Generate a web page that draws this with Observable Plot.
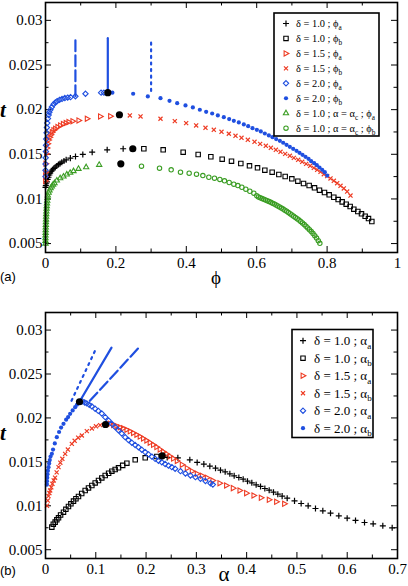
<!DOCTYPE html>
<html><head><meta charset="utf-8">
<script src="https://cdn.jsdelivr.net/npm/d3@7"></script>
<script src="https://cdn.jsdelivr.net/npm/@observablehq/plot@0.6"></script>
<style>
html,body{margin:0;padding:0;background:#fff;}
#wrap{position:relative;width:408px;height:586px;overflow:hidden;}
#wrap svg{position:absolute;left:0;}
</style></head>
<body><div id="wrap"></div>
<script>
// ---------- tick values & labels ----------
const X_TICKS_A = [0,0.2,0.4,0.6,0.8,1];
const X_LABELS_A = ["0","0.2","0.4","0.6","0.8","1"];
const X_MINOR_A = [0.1,0.3,0.5,0.7,0.9];
const X_TICKS_B = [0,0.1,0.2,0.3,0.4,0.5,0.6,0.7];
const X_LABELS_B = ["0","0.1","0.2","0.3","0.4","0.5","0.6","0.7"];
const X_MINOR_B = [0.05,0.15,0.25,0.35,0.45,0.55,0.65];
const Y_TICKS = [0.005,0.01,0.015,0.02,0.025,0.03];
const Y_LABELS = ["0.005","0.01","0.015","0.02","0.025","0.03"];
const Y_MINOR = [0.0075,0.0125,0.0175,0.0225,0.0275];

// ---------- panel (a): [phi, t] ----------
const a_d10_phiA = [[0,0.0113],[0.001,0.0115],[0.002,0.0117],[0.004,0.0119],[0.006,0.0122],[0.0085,0.01243],[0.011,0.01268],[0.0133,0.01288],[0.0165,0.0131],[0.0199,0.01326],[0.0235,0.01342],[0.0275,0.01355],[0.032,0.0137],[0.0369,0.01386],[0.0415,0.01398],[0.0464,0.01412],[0.0525,0.01425],[0.0587,0.01438],[0.0706,0.01457],[0.0852,0.01475],[0.106,0.01498],[0.1326,0.01524],[0.1752,0.0155],[0.2206,0.01562]];
const a_d10_phiB = [[0.2794,0.01562],[0.3343,0.0155],[0.3911,0.01524],[0.4337,0.01498],[0.4697,0.01472],[0.5019,0.01445],[0.5284,0.01423],[0.5549,0.01397],[0.5795,0.01371],[0.6023,0.01348],[0.6231,0.01322],[0.6439,0.013],[0.6629,0.01274],[0.6809,0.01251],[0.6998,0.01225],[0.7169,0.01199],[0.733,0.01173],[0.749,0.0115],[0.7642,0.01124],[0.7784,0.01098],[0.7926,0.01072],[0.8059,0.01046],[0.8191,0.01019],[0.8314,0.00993],[0.8428,0.00967],[0.8542,0.00941],[0.8655,0.00915],[0.8759,0.00885],[0.8873,0.00859],[0.8977,0.00833],[0.9081,0.00806],[0.9176,0.0078],[0.9271,0.00747]];
const a_d15_phiA = [[0,0.012],[0,0.0125],[0.0005,0.013],[0.001,0.01393],[0.0028,0.01506],[0.0045,0.0157],[0.0066,0.01618],[0.009,0.0166],[0.0123,0.01692],[0.0155,0.0172],[0.019,0.01748],[0.0235,0.0177],[0.0284,0.01786],[0.035,0.01805],[0.0426,0.01823],[0.0505,0.01838],[0.0585,0.0185],[0.0663,0.01861],[0.0777,0.01871],[0.0947,0.01879],[0.1184,0.01898],[0.156,0.01924],[0.1847,0.01927]];
const a_d15_phiB = [[0.2396,0.01935],[0.27,0.01924],[0.3267,0.01898],[0.3674,0.01871],[0.3996,0.01849],[0.428,0.01823],[0.4545,0.01797],[0.4782,0.01774],[0.5,0.01752],[0.5208,0.0173],[0.5398,0.01707],[0.5568,0.01685],[0.5748,0.01662],[0.5938,0.0164],[0.6098,0.01617],[0.6259,0.01595],[0.6402,0.01573],[0.6544,0.0155],[0.6676,0.01528],[0.6809,0.01505],[0.6941,0.01483],[0.7055,0.0146],[0.7178,0.01438],[0.7292,0.01416],[0.7405,0.01393],[0.7519,0.01371],[0.7623,0.01348],[0.7718,0.01326],[0.7813,0.01303],[0.7907,0.01277],[0.8002,0.01255],[0.8097,0.01229],[0.8191,0.01203],[0.8286,0.01176],[0.8381,0.01147],[0.8475,0.01117],[0.857,0.01083],[0.8665,0.01038]];
const a_d20_phiA = [[0,0.0125],[0,0.0132],[0,0.0139],[0.0005,0.0146],[0.001,0.0153],[0.0015,0.016],[0.002,0.0167],[0.003,0.0174],[0.004,0.018],[0.005,0.0185],[0.007,0.019],[0.009,0.0194],[0.011,0.0197],[0.014,0.02],[0.018,0.0203],[0.023,0.0206],[0.028,0.0208],[0.033,0.02095],[0.04,0.0211],[0.047,0.0212],[0.055,0.0213],[0.063,0.02135],[0.071,0.0214],[0.085,0.0215],[0.1136,0.02178],[0.158,0.0219],[0.166,0.0219]];
const a_d20_phiB = [[0.19,0.0219],[0.249,0.02178],[0.2907,0.02148],[0.3267,0.02129],[0.3523,0.02099],[0.3741,0.02073],[0.3977,0.02047],[0.4186,0.02025],[0.4384,0.01999],[0.4564,0.01976],[0.4735,0.01957],[0.4896,0.01935],[0.5066,0.01916],[0.5218,0.01894],[0.535,0.01875],[0.5492,0.01857],[0.5634,0.01834],[0.5758,0.01815],[0.5881,0.01793],[0.6004,0.01774],[0.6117,0.01756],[0.6231,0.01733],[0.6345,0.01711],[0.6449,0.01692],[0.6553,0.0167],[0.6657,0.01651],[0.6752,0.01629],[0.6847,0.01606],[0.6941,0.01584],[0.7036,0.01561],[0.7131,0.01539],[0.7216,0.01516],[0.7301,0.01494],[0.7386,0.01472],[0.7472,0.01449],[0.7547,0.01423],[0.7633,0.01401],[0.7708,0.01378],[0.7784,0.01352],[0.786,0.01326],[0.7935,0.013],[0.8002,0.01262]];
const a_crit_phiA = [[0,0.005],[0,0.0053],[0,0.0056],[0,0.0059],[0.0003,0.0062],[0.0005,0.0065],[0.0007,0.0068],[0.001,0.0071],[0.0012,0.0074],[0.0015,0.0077],[0.0018,0.008],[0.002,0.0083],[0.0025,0.0086],[0.003,0.0089],[0.0035,0.0092],[0.0042,0.0095],[0.005,0.0098],[0.0058,0.0101],[0.0066,0.01038],[0.009,0.0107],[0.0114,0.01094],[0.0145,0.0112],[0.018,0.01139],[0.0215,0.0116],[0.0256,0.01176],[0.0322,0.01206],[0.0417,0.01232],[0.0511,0.01251],[0.0606,0.01274],[0.0701,0.01293],[0.0795,0.01311],[0.0937,0.01337],[0.1155,0.01355],[0.1525,0.01382]];
const a_crit_phiB = [[0.2727,0.01367],[0.3239,0.01345],[0.357,0.01326],[0.3835,0.013],[0.4081,0.01288],[0.429,0.01277],[0.447,0.01262],[0.464,0.01243],[0.4801,0.01232],[0.4953,0.01218],[0.5085,0.01203],[0.5218,0.01184],[0.535,0.01165],[0.5464,0.0115],[0.5578,0.01131],[0.5691,0.01109],[0.5805,0.01086],[0.5919,0.01064],[0.6,0.01035],[0.605,0.01023],[0.61,0.01012],[0.615,0.01004],[0.62,0.00997],[0.625,0.00989],[0.63,0.00981],[0.635,0.00972],[0.64,0.00962],[0.645,0.00952],[0.65,0.00942],[0.655,0.00932],[0.66,0.00921],[0.665,0.0091],[0.67,0.00898],[0.675,0.00886],[0.68,0.00874],[0.685,0.00862],[0.69,0.00848],[0.695,0.00834],[0.7,0.0082],[0.705,0.00806],[0.71,0.00792],[0.715,0.00778],[0.72,0.00763],[0.725,0.00748],[0.73,0.00731],[0.735,0.00713],[0.74,0.00694],[0.745,0.00675],[0.75,0.00655],[0.755,0.00634],[0.76,0.00612],[0.765,0.00588],[0.77,0.00562],[0.775,0.00532],[0.7794,0.00503]];
const a_bigDots = [[0.177,0.0219],[0.21,0.01943],[0.248,0.01562],[0.214,0.01393]];
const a_lineDashed = [[0.085,0.0215],[0.085,0.028]];
const a_lineSolid = [[0.177,0.0219],[0.177,0.028]];
const a_lineDotted = [[0.3,0.0221],[0.3,0.028]];

// ---------- panel (b): [alpha, t] ----------
const b_d10_alphaA = [[0.242,0.0155],[0.2632,0.01546],[0.287,0.01523],[0.3016,0.01493],[0.3149,0.01474],[0.3268,0.01451],[0.3381,0.01428],[0.348,0.01405],[0.3573,0.01387],[0.3666,0.01364],[0.3752,0.01341],[0.3845,0.01322],[0.3931,0.01303],[0.4017,0.0128],[0.4103,0.01261],[0.4189,0.01239],[0.4276,0.0122],[0.4362,0.01197],[0.4448,0.01178],[0.4534,0.01155],[0.462,0.01132],[0.4706,0.0111],[0.4806,0.01087],[0.4952,0.01056],[0.5084,0.01026],[0.5223,0.01],[0.5369,0.00969],[0.5515,0.00943],[0.5668,0.00916],[0.5833,0.00886],[0.5999,0.00859],[0.6165,0.00833],[0.6344,0.0081],[0.6516,0.00795],[0.6708,0.00772],[0.6894,0.00749]];
const b_d10_alphaB = [[0.0126,0.00757],[0.0155,0.0079],[0.0192,0.00814],[0.0225,0.0084],[0.0259,0.00863],[0.03,0.00895],[0.0358,0.00927],[0.0405,0.0096],[0.0457,0.00992],[0.0505,0.01022],[0.0557,0.01053],[0.0605,0.0108],[0.0656,0.01106],[0.072,0.0114],[0.0789,0.01174],[0.0855,0.01203],[0.0922,0.01231],[0.0988,0.0126],[0.1054,0.01288],[0.112,0.01317],[0.1187,0.01345],[0.1255,0.0137],[0.132,0.01394],[0.1385,0.01413],[0.1452,0.01432],[0.1535,0.0146],[0.1618,0.01485],[0.1784,0.01523],[0.1983,0.01546],[0.2214,0.01561]];
const b_d15_alphaA = [[0.1286,0.01933],[0.1352,0.01921],[0.1418,0.01908],[0.1484,0.01895],[0.155,0.01882],[0.1617,0.01866],[0.1683,0.01848],[0.1749,0.01829],[0.1815,0.01809],[0.1881,0.01788],[0.1947,0.01766],[0.2013,0.01743],[0.2079,0.01719],[0.2146,0.01694],[0.2212,0.01668],[0.2278,0.01642],[0.2344,0.01616],[0.241,0.0159],[0.2478,0.01563],[0.2545,0.01537],[0.2618,0.0151],[0.2718,0.01468],[0.2817,0.01428],[0.2917,0.01394],[0.3016,0.01364],[0.3116,0.01341],[0.3215,0.01318],[0.3328,0.01288],[0.3467,0.01257],[0.3599,0.01231],[0.3732,0.01201],[0.3865,0.01174],[0.3997,0.01144],[0.4143,0.01117],[0.4289,0.01091],[0.4448,0.01068],[0.4594,0.01045],[0.4753,0.01022]];
const b_d15_alphaB = [[0.003,0.01],[0.0045,0.0106],[0.006,0.0111],[0.0078,0.01145],[0.0093,0.01174],[0.0115,0.0121],[0.0138,0.0125],[0.0163,0.01288],[0.019,0.0132],[0.0222,0.0138],[0.0259,0.0144],[0.0295,0.0149],[0.0335,0.01535],[0.0391,0.01591],[0.0445,0.0164],[0.0524,0.01705],[0.058,0.0174],[0.065,0.01775],[0.0723,0.018],[0.0822,0.0185],[0.0922,0.0188],[0.1004,0.01905],[0.1087,0.01918]];
const b_d20_alphaA = [[0.073,0.0219],[0.078,0.02175],[0.0822,0.02165],[0.087,0.0215],[0.092,0.02132],[0.0988,0.02104],[0.105,0.0208],[0.112,0.0205],[0.1188,0.02009],[0.1255,0.0197],[0.132,0.01932],[0.1386,0.01895],[0.145,0.0186],[0.1517,0.01822],[0.1584,0.01781],[0.165,0.01748],[0.1717,0.01718],[0.1783,0.01692],[0.1849,0.01667],[0.1915,0.01638],[0.1982,0.01611],[0.2048,0.01585],[0.2115,0.01559],[0.2181,0.01534],[0.2247,0.01513],[0.2313,0.01495],[0.238,0.01475],[0.2446,0.01457],[0.2512,0.0144],[0.2578,0.01422],[0.2684,0.01394],[0.2783,0.01368],[0.2883,0.01345],[0.2982,0.01326],[0.3082,0.01307],[0.3181,0.01282],[0.3281,0.01257],[0.3328,0.01242]];
const b_d20_alphaB = [[0.0027,0.0124],[0.003,0.0128],[0.0035,0.0132],[0.004,0.0136],[0.0048,0.014],[0.006,0.0144],[0.0072,0.0148],[0.0085,0.0152],[0.01,0.0156],[0.0126,0.01591],[0.015,0.0164],[0.0185,0.0171],[0.0225,0.01781],[0.027,0.0184],[0.031,0.0189],[0.0358,0.01933],[0.041,0.0198],[0.045,0.0201],[0.049,0.02047],[0.054,0.02085],[0.059,0.02122],[0.0625,0.0215],[0.0656,0.02168]];
const b_bigDots = [[0.0676,0.02184],[0.1193,0.01925],[0.232,0.01569]];
const b_lineDotted = [[0.0517,0.02195],[0.1014,0.028]];
const b_lineSolid = [[0.0676,0.02184],[0.1313,0.028]];
const b_lineDashed = [[0.0882,0.02195],[0.1856,0.028]];

// ---------- legend labels ----------
const LEGEND_A = [
  [["δ = 1.0 ; ϕ",0],["a",1]],
  [["δ = 1.0 ; ϕ",0],["b",1]],
  [["δ = 1.5 ; ϕ",0],["a",1]],
  [["δ = 1.5 ; ϕ",0],["b",1]],
  [["δ = 2.0 ; ϕ",0],["a",1]],
  [["δ = 2.0 ; ϕ",0],["b",1]],
  [["δ = 1.0 ; α = α",0],["c",1],[" ; ϕ",0],["a",1]],
  [["δ = 1.0 ; α = α",0],["c",1],[" ; ϕ",0],["b",1]]
];
const LEGEND_B = [
  [["δ = 1.0 ; α",0],["a",1]],
  [["δ = 1.0 ; α",0],["b",1]],
  [["δ = 1.5 ; α",0],["a",1]],
  [["δ = 1.5 ; α",0],["b",1]],
  [["δ = 2.0 ; α",0],["a",1]],
  [["δ = 2.0 ; α",0],["b",1]]
];

// ---------- styles ----------
const SERIF = "'Liberation Serif', 'Times New Roman', serif";
const BLUE = "#1f4fe0", RED = "#ee3b23", GREEN = "#3a9d23", BLACK = "#000";
const triRight = {draw(ctx, size){const r=Math.sqrt(size/Math.PI)*1.15; ctx.moveTo(r,0); ctx.lineTo(-r*0.65,-r*0.9); ctx.lineTo(-r*0.65,r*0.9); ctx.closePath();}};
const STY = {
  d10a: {symbol:"plus", r:2.1, stroke:BLACK, fill:"none", strokeWidth:1.2},
  d10b: {symbol:"square", r:2.5, stroke:BLACK, fill:"none", strokeWidth:1.1},
  d15a: {symbol:triRight, r:2.5, stroke:RED, fill:"none", strokeWidth:1.1},
  d15b: {symbol:"times", r:2.0, stroke:RED, fill:"none", strokeWidth:1.2},
  d20a: {symbol:"diamond2", r:2.4, stroke:BLUE, fill:"none", strokeWidth:1.1},
  d20b: {symbol:"circle", r:2.1, stroke:"none", fill:BLUE},
  ca:   {symbol:"triangle2", r:2.5, stroke:GREEN, fill:"none", strokeWidth:1.1},
  cb:   {symbol:"circle", r:2.2, stroke:GREEN, fill:"none", strokeWidth:1.1}
};
const symMap = {plus:d3.symbolPlus, square:d3.symbolSquare, times:d3.symbolTimes, diamond2:d3.symbolDiamond2, circle:d3.symbolCircle, triangle2:d3.symbolTriangle2};

const W = 408, H = 293;
const ML = 45, MR = 11;
const yDomain = [0.004, 0.032];

function dots(data, s){ return Plot.dot(data, {x:d=>d[0], y:d=>d[1], ...s}); }
function lineM(data, dash, sw){ return Plot.line(data, {x:d=>d[0], y:d=>d[1], stroke:BLUE, strokeWidth:sw, strokeDasharray:dash}); }

function tickMarks(xMaj, xMin, innerW, innerH){
  const maj = 6, mn = 3.5, st = {stroke:"black", strokeWidth:1};
  return [
    Plot.ruleX(xMaj, {x:d=>d, insetTop:innerH-maj, ...st}),
    Plot.ruleX(xMaj, {x:d=>d, insetBottom:innerH-maj, ...st}),
    Plot.ruleX(xMin, {x:d=>d, insetTop:innerH-mn, ...st}),
    Plot.ruleX(xMin, {x:d=>d, insetBottom:innerH-mn, ...st}),
    Plot.ruleY(Y_TICKS, {y:d=>d, insetRight:innerW-maj, ...st}),
    Plot.ruleY(Y_TICKS, {y:d=>d, insetLeft:innerW-maj, ...st}),
    Plot.ruleY(Y_MINOR, {y:d=>d, insetRight:innerW-mn, ...st}),
    Plot.ruleY(Y_MINOR, {y:d=>d, insetLeft:innerW-mn, ...st})
  ];
}

function axes(xT, xL){
  return [
    Plot.axisX({ticks:xT, tickFormat:d=>xL[xT.indexOf(d)], tickSize:0, tickPadding:5, label:null, fontSize:15, fontFamily:SERIF}),
    Plot.axisY({ticks:Y_TICKS, tickFormat:d=>Y_LABELS[Y_TICKS.indexOf(d)], tickSize:0, tickPadding:3, label:null, fontSize:15, fontFamily:SERIF})
  ];
}

function addLegend(svg, L, rows, styles){
  const g = d3.select(svg).append("g");
  g.append("rect").attr("x",L.x).attr("y",L.y).attr("width",L.w).attr("height",L.h)
    .attr("fill","white").attr("stroke","black").attr("stroke-width",1.6);
  rows.forEach((row,i)=>{
    const y = L.y0 + i*L.dy;
    const s = styles[i];
    const type = typeof s.symbol === "string" ? symMap[s.symbol] : s.symbol;
    g.append("path").attr("transform",`translate(${L.mx},${y})`)
      .attr("d", d3.symbol(type, Math.PI*s.r*s.r)())
      .attr("fill", s.fill).attr("stroke", s.stroke).attr("stroke-width", s.strokeWidth||1);
    const t = g.append("text").attr("x",L.tx).attr("y",y).attr("dy","0.35em")
      .attr("text-anchor","start")
      .style("font-family",SERIF).style("font-size",L.fs+"px").attr("fill","black");
    let shifted = false;
    row.forEach(([txt,sub])=>{
      const ts = t.append("tspan").text(txt);
      if (sub && !shifted){ ts.attr("dy", L.fs*0.28).style("font-size", (L.fs*0.7)+"px"); shifted = true; }
      else if (!sub && shifted){ ts.attr("dy", -L.fs*0.28); shifted = false; }
      else if (sub) ts.style("font-size", (L.fs*0.7)+"px");
    });
  });
}

function addText(svg, x, y, txt, opts){
  d3.select(svg).append("text").attr("x",x).attr("y",y).text(txt)
    .style("font-family", opts.ff||SERIF).style("font-size", opts.fs+"px")
    .style("font-style", opts.fi||"normal").style("font-weight", opts.fw||"normal")
    .attr("text-anchor", opts.anchor||"start").attr("fill","black");
}

const styleBase = {fontFamily:SERIF, fontSize:"15px", background:"white", color:"black", overflow:"visible"};

// ---------- panel (a) ----------
const MTa = 2, MBa = 41;
const plotA = Plot.plot({
  width:W, height:H, marginLeft:ML, marginRight:MR, marginTop:MTa, marginBottom:MBa,
  x:{domain:[0,1]}, y:{domain:yDomain},
  style:styleBase,
  marks:[
    ...axes(X_TICKS_A, X_LABELS_A),
    ...tickMarks(X_TICKS_A, X_MINOR_A, W-ML-MR, H-MTa-MBa),
    lineM(a_lineDashed, "11,4", 2.2),
    lineM(a_lineSolid, null, 2.2),
    lineM(a_lineDotted, "2,4.6", 2.2),
    dots(a_crit_phiB, STY.cb),
    dots(a_crit_phiA, STY.ca),
    dots(a_d10_phiB, STY.d10b),
    dots(a_d10_phiA, STY.d10a),
    dots(a_d15_phiB, STY.d15b),
    dots(a_d15_phiA, STY.d15a),
    dots(a_d20_phiA, STY.d20a),
    dots(a_d20_phiB, STY.d20b),
    Plot.dot(a_bigDots, {x:d=>d[0], y:d=>d[1], r:3.6, fill:"black", stroke:"none"}),
    Plot.frame({stroke:"black", strokeWidth:1.6})
  ]
});
plotA.style.top = "0px";
document.getElementById("wrap").appendChild(plotA);
addLegend(plotA, {x:274, y:13, w:105, h:123, y0:23.5, dy:14.95, mx:286, tx:296, fs:10.4}, LEGEND_A,
  [STY.d10a, STY.d10b, STY.d15a, STY.d15b, STY.d20a, STY.d20b, STY.ca, STY.cb]);
addText(plotA, 0, 117, "t", {fs:21, fi:"italic", fw:"bold"});
addText(plotA, 216, 284, "ϕ", {fs:19, anchor:"middle"});
addText(plotA, 0, 281, "(a)", {fs:13, ff:"'Liberation Sans', Arial, sans-serif"});

// ---------- panel (b) ----------
const MTb = 19, MBb = 28;
const plotB = Plot.plot({
  width:W, height:H, marginLeft:ML, marginRight:MR, marginTop:MTb, marginBottom:MBb,
  x:{domain:[0,0.7]}, y:{domain:yDomain},
  style:styleBase,
  marks:[
    ...axes(X_TICKS_B, X_LABELS_B),
    ...tickMarks(X_TICKS_B, X_MINOR_B, W-ML-MR, H-MTb-MBb),
    lineM(b_lineDotted, "2,4.6", 2.2),
    lineM(b_lineSolid, null, 2.2),
    lineM(b_lineDashed, "11,4", 2.2),
    dots(b_d10_alphaB, STY.d10b),
    dots(b_d10_alphaA, STY.d10a),
    dots(b_d15_alphaA, STY.d15a),
    dots(b_d15_alphaB, STY.d15b),
    dots(b_d20_alphaA, STY.d20a),
    dots(b_d20_alphaB, STY.d20b),
    Plot.dot(b_bigDots, {x:d=>d[0], y:d=>d[1], r:3.6, fill:"black", stroke:"none"}),
    Plot.frame({stroke:"black", strokeWidth:1.6})
  ]
});
plotB.style.top = "293px";
document.getElementById("wrap").appendChild(plotB);
addLegend(plotB, {x:292, y:36.5, w:81, h:108, y0:47.7, dy:17.5, mx:303, tx:314, fs:13}, LEGEND_B,
  [STY.d10a, STY.d10b, STY.d15a, STY.d15b, STY.d20a, STY.d20b]);
addText(plotB, 0, 147, "t", {fs:21, fi:"italic", fw:"bold"});
addText(plotB, 224, 288, "α", {fs:21, anchor:"middle"});
addText(plotB, 0, 282, "(b)", {fs:13, ff:"'Liberation Sans', Arial, sans-serif"});
</script>
</body></html>
